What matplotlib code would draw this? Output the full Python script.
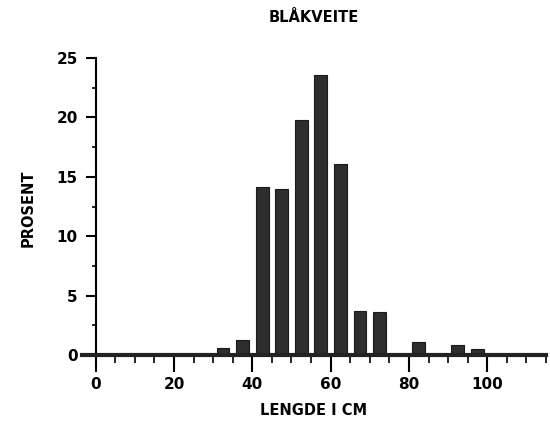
import matplotlib.pyplot as plt
from matplotlib.ticker import MultipleLocator

# Data (bin centres in cm, percent)
lengths = [32.5, 37.5, 42.5, 47.5, 52.5, 57.5, 62.5, 67.5, 72.5, 82.5, 92.5, 97.5]
percent = [0.6, 1.25, 14.1, 14.0, 19.8, 23.6, 16.1, 3.7, 3.6, 1.1, 0.85, 0.5]

x_ticks = [0, 20, 40, 60, 80, 100]
y_ticks = [0, 5, 10, 15, 20, 25]

plt.rcParams['font.family'] = 'DejaVu Sans'
plt.rcParams['font.weight'] = 'bold'

fig = plt.figure(figsize=(5.5, 4.32), dpi=100)
ax = fig.add_axes([82 / 550, 1 - 355 / 432, 464 / 550, 297 / 432])

ax.bar(lengths, percent, width=3.3, color='#2e2e2e', edgecolor='#1a1a1a', linewidth=0.8)

ax.set_xlim(-3.5, 115)
ax.set_ylim(0, 25)

for s in ['top', 'right']:
    ax.spines[s].set_visible(False)
ax.spines['left'].set_position(('data', 0))
ax.spines['left'].set_linewidth(1.5)
ax.spines['bottom'].set_linewidth(3)
ax.spines['bottom'].set_color('#222222')

ax.set_xticks(x_ticks)
ax.set_yticks(y_ticks)
ax.xaxis.set_minor_locator(MultipleLocator(5))
ax.yaxis.set_minor_locator(MultipleLocator(2.5))
ax.tick_params(axis='x', which='major', direction='out', length=12, width=1.5, labelsize=11, pad=4)
ax.tick_params(axis='x', which='minor', direction='out', length=6, width=1.2)
ax.tick_params(axis='y', which='major', direction='out', length=7, width=1.5, labelsize=11, pad=6)
ax.tick_params(axis='y', which='minor', direction='out', length=3, width=1.2)

ax.set_xlabel('LENGDE I CM', fontsize=10.5, fontweight='bold', labelpad=8)
ax.set_title('BLÅKVEITE', fontsize=10.5, fontweight='bold', pad=26, x=0.5)
fig.text(28 / 550, 1 - 208 / 432, 'PROSENT', rotation=90, ha='center', va='center',
         fontsize=10.5, fontweight='bold')

fig.savefig('out.png', dpi=100)
